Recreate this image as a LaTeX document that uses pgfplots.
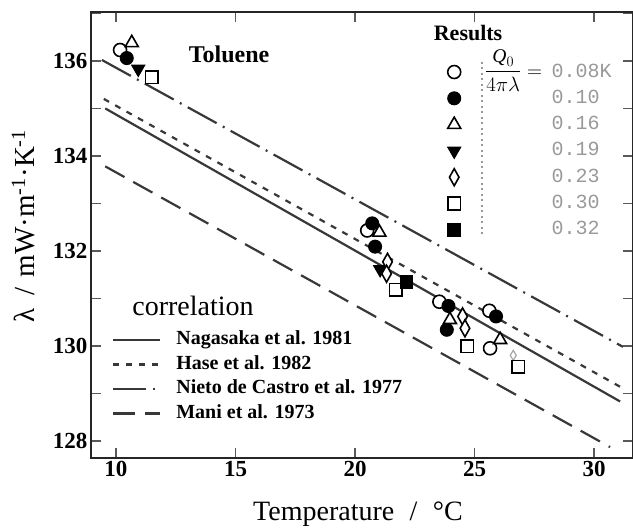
\documentclass[border=0pt]{standalone}
\usepackage{pgfplots}
\pgfplotsset{compat=1.18}
\usepackage{amsmath}
\usepackage{fontspec}
\setmainfont{Liberation Serif}
\newfontfamily\monofont{Liberation Mono}
\begin{document}
\begin{tikzpicture}
\pgfplotsset{
  linecol/.style={black!78, line width=2.2pt},
  nagasaka/.style={linecol, solid},
  hase/.style={linecol, dash pattern=on 6pt off 7pt},
  nieto/.style={linecol, dash pattern=on 33pt off 7pt on 2pt off 7pt},
  mani/.style={linecol, dash pattern=on 22pt off 10pt},
}
\begin{axis}[name=ax, scale only axis, width=542pt, height=446pt,
 xmin=8.954, xmax=31.63, ymin=127.64, ymax=137.03,
 xtick={10,15,20,25,30}, ytick={128,130,...,136}, minor ytick={129,131,...,137},
 tick align=inside, major tick length=10pt, minor tick length=10pt,
 tick style={line width=1.6pt, black!65},
 axis line style={line width=2pt, black!85},
 ticklabel style={font=\bfseries\fontsize{23}{26}\selectfont},
 /pgf/number format/assume math mode=true,
 xlabel={Temperature\hspace{0.55em}/\hspace{0.55em}°C},
 ylabel={λ\hspace{0.45em}/\hspace{0.35em}mW·m\textsuperscript{-1}·K\textsuperscript{-1}},
 every axis x label/.style={at={(axis description cs:0.4926,-0.125)}, anchor=center,
   font=\fontsize{28}{30}\selectfont},
 every axis y label/.style={at={(axis description cs:-0.125,0.52)}, rotate=90, anchor=center,
   font=\fontsize{29}{31}\selectfont},
 legend cell align=left,
 legend style={at={(axis cs:23.87,135.96)}, anchor=north west, draw=none, fill=none,
   inner sep=0pt, column sep=91pt, row sep=8.3pt,
   nodes={inner sep=0pt, text height=14pt, text depth=4pt,
     font=\monofont\fontsize{20}{22}\selectfont, text=black!40}},
 legend image code/.code={\draw[#1] plot coordinates {(0pt,0pt)};},
]
% correlation lines
\addplot[nagasaka, forget plot] coordinates {(9.55,135.00) (31.09,128.83)};
\addplot[hase, forget plot] coordinates {(9.49,135.20) (31.09,129.14)};
\addplot[nieto, forget plot] coordinates {(9.41,136.02) (31.21,129.98)};
\addplot[mani, forget plot] coordinates {(9.55,133.78) (30.67,127.87)};
% faint smudged mark
\addplot[only marks, forget plot, mark=diamond*, mark size=5pt,
  mark options={fill=white, draw=black!35, line width=1.2pt, xscale=0.8}] coordinates {(26.62,129.80)};
% results
\addplot[only marks, mark=*, mark size=6.5pt,
  mark options={fill=white, draw=black, line width=1.6pt}]
  coordinates {(10.17,136.23) (20.51,132.43) (23.53,130.93) (25.62,130.74) (25.65,129.95)};
\addlegendentry{\llap{\smash{\rmfamily\fontsize{19.5}{22}\selectfont\color{black}$\dfrac{\mathit{Q}_0}{4\pi\lambda}={}$}\hspace{4pt}}0.08K}
\addplot[only marks, mark=*, mark size=6.5pt,
  mark options={fill=black, draw=black, line width=1pt}]
  coordinates {(10.45,136.06) (20.72,132.58) (20.84,132.09) (23.91,130.84) (23.84,130.34) (25.90,130.62)};
\addlegendentry{0.10}
\addplot[only marks, mark=triangle*, mark size=7.5pt,
  mark options={fill=white, draw=black, line width=1.6pt}]
  coordinates {(10.66,136.38) (21.02,132.39) (23.97,130.55) (26.07,130.13)};
\addlegendentry{0.16}
\addplot[only marks, mark=triangle*, mark size=7.5pt,
  mark options={fill=black, draw=black, line width=1pt, rotate=180}]
  coordinates {(10.93,135.83) (21.05,131.61)};
\addlegendentry{0.19}
\addplot[only marks, mark=diamond*, mark size=8.5pt,
  mark options={fill=white, draw=black, line width=1.6pt, xscale=0.75}]
  coordinates {(21.36,131.77) (21.32,131.52) (24.50,130.62) (24.60,130.37)};
\addlegendentry{0.23}
\addplot[only marks, mark=square*, mark size=6.3pt,
  mark options={fill=white, draw=black, line width=1.6pt}]
  coordinates {(11.49,135.66) (21.70,131.18) (24.70,129.99) (26.83,129.56)};
\addlegendentry{0.30}
\addplot[only marks, mark=square*, mark size=6.3pt,
  mark options={fill=black, draw=black, line width=1pt}]
  coordinates {(22.16,131.35)};
\addlegendentry{0.32}
% texts
\node[font=\bfseries\fontsize{24}{26}\selectfont] at (axis cs:14.73,136.13) {Toluene};
\node[font=\bfseries\fontsize{22}{24}\selectfont] at (axis cs:24.73,136.59) {Results};
\node[font=\fontsize{28}{30}\selectfont] at (axis cs:13.22,130.84) {correlation};
\draw[black!40, line width=2pt, dash pattern=on 2pt off 3.5pt] (axis cs:25.30,135.98) -- (axis cs:25.30,132.29);
\end{axis}
\begin{axis}[at={(ax.south west)}, anchor=south west, scale only axis, width=542pt, height=446pt,
 xmin=8.954, xmax=31.63, ymin=127.64, ymax=137.03, hide axis,
 legend cell align=left,
 legend style={at={(axis cs:9.83,130.32)}, anchor=north west, draw=none, fill=none,
   inner sep=0pt, column sep=15pt, row sep=6.5pt,
   nodes={inner sep=0pt, text height=14pt, text depth=4pt,
     font=\bfseries\fontsize{20}{22}\selectfont}},
 legend image code/.code={\draw[#1] (0pt,0pt) -- (47pt,0pt);},
]
\addlegendimage{nagasaka}
\addlegendentry{Nagasaka et al. 1981}
\addlegendimage{hase}
\addlegendentry{Hase et al. 1982}
\addlegendimage{nieto}
\addlegendentry{Nieto de Castro et al. 1977}
\addlegendimage{mani}
\addlegendentry{Mani et al. 1973}
\end{axis}
\pgfresetboundingbox
\path[use as bounding box] ([shift={(-91pt,-71pt)}]ax.south west) rectangle ([shift={(0pt,12pt)}]ax.north east);
\end{tikzpicture}
\end{document}
